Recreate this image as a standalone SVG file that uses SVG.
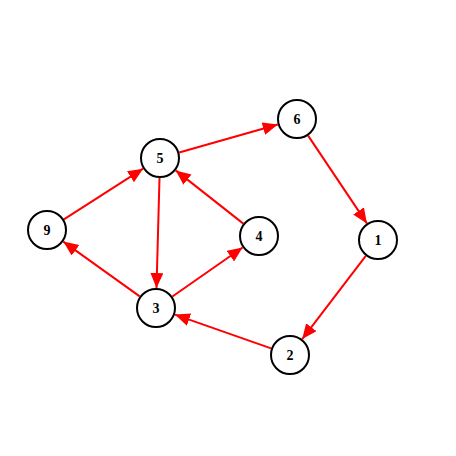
<svg xmlns="http://www.w3.org/2000/svg" width="456" height="456" viewBox="0 0 456 456">
<style>
.node circle{fill:#fff;stroke:#000;stroke-width:2}
.node text{font-family:"Liberation Serif","DejaVu Serif",serif;font-weight:bold;font-size:14px;text-anchor:middle;dominant-baseline:central;fill:#000}
.edge{stroke:#f00;stroke-width:2;fill:none;marker-end:url(#arr)}
</style>
<defs>
<marker id="arr" markerUnits="userSpaceOnUse" markerWidth="16" markerHeight="14" refX="15" refY="6.5" orient="auto">
<path d="M0,0 L15,6.5 L0,13 z" fill="#f00"/>
</marker>
</defs>
<rect width="456" height="456" fill="#fff"/>
<g id="connectors">
<line class="edge" x1="179.2" y1="152.5" x2="277.8" y2="124.5"/>
<line class="edge" x1="308.1" y1="135.6" x2="366.9" y2="223.4"/>
<line class="edge" x1="365.8" y1="255.9" x2="302.2" y2="339.1"/>
<line class="edge" x1="271.1" y1="348.4" x2="174.9" y2="314.6"/>
<line class="edge" x1="139.7" y1="296.4" x2="63.3" y2="241.6"/>
<line class="edge" x1="63.9" y1="219.3" x2="143.1" y2="168.7"/>
<line class="edge" x1="159.5" y1="178.0" x2="156.5" y2="288.0"/>
<line class="edge" x1="172.4" y1="296.5" x2="242.6" y2="247.5"/>
<line class="edge" x1="243.3" y1="223.6" x2="175.7" y2="170.4"/>
</g>
<g id="node1" class="node"><circle cx="378" cy="240" r="19"/><text x="378" y="240">1</text></g>
<g id="node2" class="node"><circle cx="290" cy="355" r="19"/><text x="290" y="355">2</text></g>
<g id="node3" class="node"><circle cx="156" cy="308" r="19"/><text x="156" y="308">3</text></g>
<g id="node4" class="node"><circle cx="259" cy="236" r="19"/><text x="259" y="236">4</text></g>
<g id="node5" class="node"><circle cx="160" cy="158" r="19"/><text x="160" y="158">5</text></g>
<g id="node6" class="node"><circle cx="297" cy="119" r="19"/><text x="297" y="119">6</text></g>
<g id="node9" class="node"><circle cx="47" cy="230" r="19"/><text x="47" y="230">9</text></g>
</svg>
